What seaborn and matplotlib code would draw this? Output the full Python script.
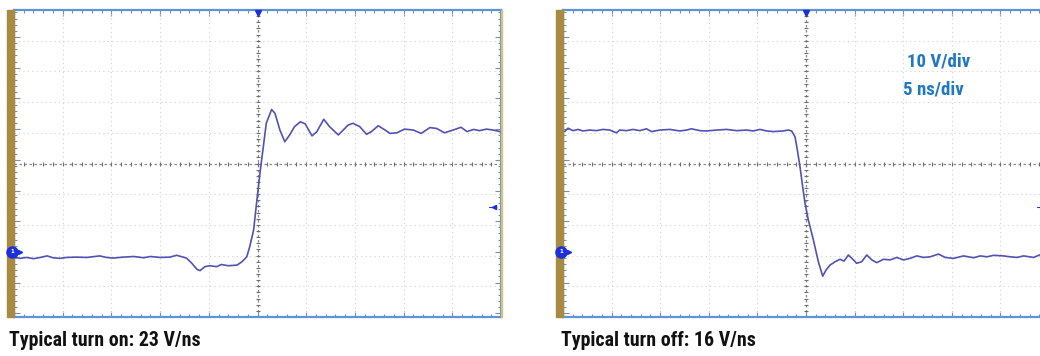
import numpy as np
import pandas as pd
import seaborn as sns
import matplotlib.pyplot as plt
from matplotlib.patches import Rectangle
from matplotlib.transforms import blended_transform_factory
from matplotlib.ticker import MultipleLocator
from matplotlib import font_manager

# scope settings
ns_per_div = 5
v_per_div = 10
screen_center_v = 28.8   # volts at the middle graticule line
trigger_v = 14.7

# turn on trace (ns, V)
on_time = [-24.9, -24.4, -23.7, -23.0, -22.3, -21.6, -21.0, -20.3, -19.6, -18.6,
           -17.5, -16.2, -15.5, -14.8, -13.8, -12.7, -11.7, -11.0, -10.0, -9.0,
           -8.3, -7.3, -6.8, -6.2, -5.9, -5.4, -4.9, -4.2, -3.7, -3.0,
           -2.1, -1.6, -1.1, -0.8, -0.4, -0.1, 0.25, 0.6, 0.9, 1.45,
           1.8, 2.3, 2.8, 3.3, 3.8, 4.4, 4.9, 5.6, 6.1, 6.8,
           7.4, 8.3, 8.8, 9.3, 9.8, 10.5, 11.2, 11.7, 12.4, 13.1,
           13.6, 14.3, 15.1, 16.0, 16.8, 17.7, 18.4, 19.2, 19.9, 20.9,
           21.5, 22.2, 22.8, 23.5, 24.2, 24.9]
on_volts = [-1.6, -2.1, -1.8, -2.2, -1.8, -1.3, -1.9, -2.1, -1.8, -1.7,
            -1.8, -1.3, -1.8, -2.0, -1.7, -1.5, -1.9, -1.5, -1.8, -1.7,
            -1.1, -2.0, -3.5, -5.7, -6.1, -4.8, -4.5, -4.8, -4.1, -4.5,
            -4.3, -3.2, -1.6, 1.7, 7.1, 15.8, 25.6, 34.3, 41.9, 46.4,
            45.1, 39.7, 35.9, 38.1, 40.8, 42.4, 41.7, 37.8, 39.2, 43.2,
            40.8, 38.1, 39.7, 41.3, 41.9, 40.8, 38.3, 39.2, 41.1, 39.7,
            38.6, 38.8, 40.0, 39.7, 38.6, 40.5, 40.2, 38.8, 39.5, 40.6,
            39.2, 39.9, 39.5, 40.0, 39.7, 39.2]

# turn off trace (ns, V)
off_time = [-24.83, -24.48, -23.97, -23.45, -22.94, -22.25, -21.57, -20.88, -20.19, -19.51,
            -19.16, -18.47, -17.79, -17.10, -16.41, -15.90, -15.04, -14.01, -12.98, -12.29,
            -11.78, -10.92, -10.23, -9.20, -8.17, -7.14, -6.11, -5.43, -4.74, -4.05,
            -3.37, -2.34, -1.82, -1.48, -1.13, -0.89, -0.62, -0.34, -0.10, 0.24,
            0.76, 1.27, 1.72, 2.06, 2.47, 2.99, 3.50, 3.91, 4.36, 4.88,
            5.22, 5.73, 6.25, 6.77, 7.28, 7.97, 8.65, 9.34, 10.03, 10.71,
            11.40, 12.09, 12.77, 13.63, 14.32, 15.18, 16.21, 17.24, 17.93, 18.61,
            19.30, 20.33, 21.02, 21.70, 22.39, 23.42, 24.10, 24.9]
off_volts = [39.2, 40.3, 39.5, 39.9, 39.4, 39.7, 39.5, 39.9, 39.7, 38.8,
             39.7, 39.5, 39.9, 39.5, 40.1, 39.2, 39.7, 39.9, 39.4, 39.7,
             40.1, 39.5, 39.4, 39.7, 39.9, 39.5, 39.7, 39.4, 39.9, 39.4,
             39.2, 39.4, 39.7, 39.4, 37.5, 33.2, 27.8, 21.2, 15.8, 10.4,
             3.9, -3.2, -7.9, -5.9, -4.3, -3.2, -2.4, -3.0, -1.0, -2.6,
             -3.7, -3.2, -1.0, -2.6, -3.5, -2.4, -2.6, -1.8, -2.6, -2.1,
             -1.3, -1.8, -1.6, -0.7, -1.8, -2.1, -1.3, -1.9, -1.3, -1.6,
             -1.1, -1.3, -1.6, -1.8, -1.3, -1.8, -0.9, -1.2]

captions = ["Typical turn on: 23 V/ns", "Typical turn off: 16 V/ns"]
scale_labels = ["10 V/div", "5 ns/div"]

sns.set_theme(style="white")

# pick a narrow bold face if one is around
names = {f.name for f in font_manager.fontManager.ttflist}
font = None
for cand in ["Liberation Sans Narrow", "DejaVu Sans Condensed", "Roboto Condensed",
             "Open Sans Condensed", "Noto Sans Display", "Roboto", "DejaVu Sans"]:
    if cand in names:
        font = cand
        break
print("font used:", font)

trace_col = "#5252b4"
frame_col = "#5b95d6"
gold = "#a88a42"
marker_col = "#1c2fd8"

fig = plt.figure(figsize=(10.4, 3.56), dpi=100)
ax_on = fig.add_axes([14/1040, 39/356, 487/1040, 307/356])
ax_off = fig.add_axes([563/1040, 39/356, 486/1040, 307/356])

xlim = (-5 * ns_per_div, 5 * ns_per_div)
ylim = (screen_center_v - 5 * v_per_div, screen_center_v + 5 * v_per_div)


def graticule(ax):
    ax.set_xlim(*xlim)
    ax.set_ylim(*ylim)
    ax.set_facecolor("white")
    for k in range(-4, 5):
        if k == 0:
            continue
        ax.axvline(k * ns_per_div, color="#d2d2d2", lw=0.8, ls=(0, (1, 3)), zorder=1)
        ax.axhline(screen_center_v + k * v_per_div, color="#d2d2d2", lw=0.8, ls=(0, (1, 3)), zorder=1)
    ax.axvline(0, color="#8a8a8a", lw=0.9, ls=(0, (2, 2)), zorder=1)
    ax.axhline(screen_center_v, color="#8a8a8a", lw=0.9, ls=(0, (2, 2)), zorder=1)
    # small ticks along the centre lines
    hx = np.arange(xlim[0], xlim[1] + 0.01, ns_per_div / 5)
    vy = np.arange(ylim[0], ylim[1] + 0.01, v_per_div / 5)
    ax.plot(hx, np.full_like(hx, screen_center_v), ls="none", marker="|",
            ms=3, mew=0.8, color="#6f6f6f", zorder=1)
    ax.plot(np.zeros_like(vy), vy, ls="none", marker="_",
            ms=3, mew=0.8, color="#6f6f6f", zorder=1)
    # frame
    for s in ax.spines.values():
        s.set_visible(True)
        s.set_color(frame_col)
        s.set_linewidth(1.6)
    ax.xaxis.set_major_locator(MultipleLocator(ns_per_div))
    ax.xaxis.set_minor_locator(MultipleLocator(ns_per_div / 5))
    ax.yaxis.set_major_locator(MultipleLocator(v_per_div))
    ax.yaxis.set_minor_locator(MultipleLocator(v_per_div / 5))
    ax.tick_params(which="both", direction="in", top=True, bottom=True, left=True, right=True,
                   labelbottom=False, labelleft=False, color="#7a8fb0", width=0.8)
    ax.tick_params(which="major", length=4)
    ax.tick_params(which="minor", length=2.5)
    ax.set_xlabel("")
    ax.set_ylabel("")
    # gold bar on the left edge
    ax.add_patch(Rectangle((-0.0145, 0), 0.0145, 1, transform=ax.transAxes,
                           color=gold, clip_on=False, zorder=5))
    # channel ground marker
    tr = blended_transform_factory(ax.transAxes, ax.transData)
    ax.plot([-0.004], [0], marker="o", ms=8, color=marker_col, transform=tr,
            clip_on=False, zorder=6)
    ax.text(-0.004, 0, "1", color="white", fontsize=4, ha="center", va="center",
            transform=tr, zorder=7, fontweight="bold")
    ax.plot([0.012], [0], marker=">", ms=3, color=marker_col, transform=tr,
            clip_on=False, zorder=6)
    # trigger markers
    ax.plot([0.985], [trigger_v], marker="<", ms=3, color=marker_col, transform=tr,
            clip_on=False, zorder=6)
    ax.plot([0.975, 0.99], [trigger_v, trigger_v], color=marker_col, lw=0.8, transform=tr,
            clip_on=False, zorder=6)
    tr2 = blended_transform_factory(ax.transData, ax.transAxes)
    ax.plot([0], [0.99], marker="v", ms=4, color=marker_col, transform=tr2,
            clip_on=False, zorder=6)


on_df = pd.DataFrame({"time": on_time, "volts": on_volts})
off_df = pd.DataFrame({"time": off_time, "volts": off_volts})

for ax, df in [(ax_on, on_df), (ax_off, off_df)]:
    sns.lineplot(data=df, x="time", y="volts", ax=ax, color=trace_col,
                 linewidth=1.2, estimator=None, sort=False, zorder=4)
    graticule(ax)

# thin gold strip on the right of the first screen
ax_on.add_patch(Rectangle((1.0, 0), 0.003, 1, transform=ax_on.transAxes,
                          color="#d8c07a", clip_on=False, zorder=5))

fig.text(9/1040, (356 - 340)/356, captions[0], family=font, fontweight="bold",
         fontstretch="condensed", fontsize=14.3, ha="left", va="center", color="#111111")
fig.text(561/1040, (356 - 340)/356, captions[1], family=font, fontweight="bold",
         fontstretch="condensed", fontsize=14.3, ha="left", va="center", color="#111111")
fig.text(907/1040, (356 - 62)/356, scale_labels[0], family=font, fontweight="bold",
         fontstretch="condensed", fontsize=13.6, ha="left", va="center", color="#1f78c1")
fig.text(903/1040, (356 - 89)/356, scale_labels[1], family=font, fontweight="bold",
         fontstretch="condensed", fontsize=13.6, ha="left", va="center", color="#1f78c1")

fig.savefig("out.png", dpi=100, facecolor="white")
